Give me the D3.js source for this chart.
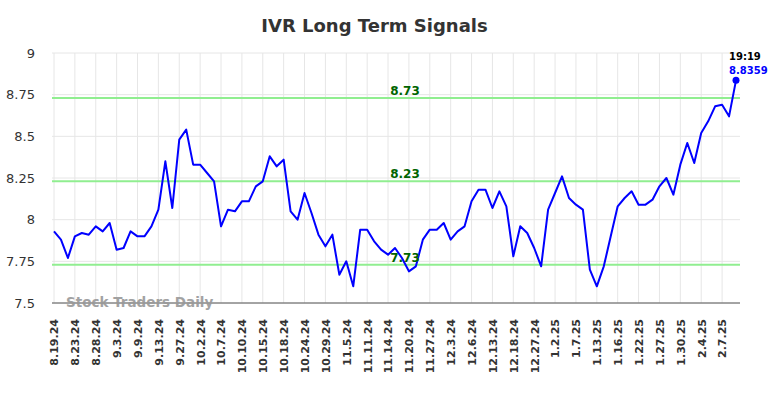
<!DOCTYPE html>
<html>
<head>
<meta charset="utf-8">
<script src="https://cdn.jsdelivr.net/npm/d3@7"></script>
<style>
  body { margin: 0; background: #fff; font-family: "DejaVu Sans", sans-serif; }
  .axis path, .axis line { display: none; }
</style>
</head>
<body>
<div id="chart"></div>
<script>
const values = [
  7.93, 7.88, 7.77, 7.90, 7.92, 7.91, 7.96, 7.93, 7.98, 7.82,
  7.83, 7.93, 7.90, 7.90, 7.96, 8.06, 8.35, 8.07, 8.48, 8.54,
  8.33, 8.33, 8.28, 8.23, 7.96, 8.06, 8.05, 8.11, 8.11, 8.20,
  8.23, 8.38, 8.32, 8.36, 8.05, 8.00, 8.16, 8.04, 7.91, 7.84,
  7.91, 7.67, 7.75, 7.60, 7.94, 7.94, 7.87, 7.82, 7.79, 7.83,
  7.77, 7.69, 7.72, 7.88, 7.94, 7.94, 7.98, 7.88, 7.93, 7.96,
  8.11, 8.18, 8.18, 8.07, 8.17, 8.08, 7.78, 7.96, 7.92, 7.83,
  7.72, 8.06, 8.16, 8.26, 8.13, 8.09, 8.06, 7.70, 7.60, 7.72,
  7.90, 8.08, 8.13, 8.17, 8.09, 8.09, 8.12, 8.20, 8.25, 8.15,
  8.33, 8.46, 8.34, 8.52, 8.59, 8.68, 8.69, 8.62, 8.8359
];

const tickLabels = [
  "8.19.24", "8.23.24", "8.28.24", "9.3.24", "9.9.24", "9.13.24", "9.27.24",
  "10.2.24", "10.7.24", "10.10.24", "10.15.24", "10.18.24", "10.24.24",
  "10.29.24", "11.5.24", "11.11.24", "11.14.24", "11.20.24", "11.27.24",
  "12.3.24", "12.6.24", "12.13.24", "12.18.24", "12.27.24", "1.2.25",
  "1.7.25", "1.13.25", "1.16.25", "1.22.25", "1.27.25", "1.30.25",
  "2.4.25", "2.7.25"
];

const yTicks = [7.5, 7.75, 8, 8.25, 8.5, 8.75, 9];
const signals = [8.73, 8.23, 7.73];
const lastTime = "19:19";

const width = 784, height = 398;
const margin = { top: 53, right: 44, bottom: 95, left: 52 };

const svg = d3.select("#chart")
  .append("svg")
  .attr("width", width)
  .attr("height", height);

const xScale = d3.scalePoint()
  .domain(d3.range(values.length))
  .range([margin.left + 2, width - margin.right - 4]);

const yScale = d3.scaleLinear()
  .domain([7.5, 9])
  .range([height - margin.bottom, margin.top]);

// grid
svg.append("g")
  .selectAll("line")
  .data(yTicks)
  .enter()
  .append("line")
  .attr("x1", margin.left)
  .attr("x2", width - margin.right)
  .attr("y1", d => yScale(d))
  .attr("y2", d => yScale(d))
  .attr("stroke", "#e6e6e6")
  .attr("stroke-width", 1);

const tickIdx = d3.range(0, values.length, 3);

svg.append("g")
  .selectAll("line")
  .data(tickIdx)
  .enter()
  .append("line")
  .attr("x1", d => xScale(d))
  .attr("x2", d => xScale(d))
  .attr("y1", margin.top)
  .attr("y2", height - margin.bottom)
  .attr("stroke", "#e6e6e6")
  .attr("stroke-width", 1);

// y axis labels
svg.append("g")
  .attr("class", "axis")
  .attr("transform", `translate(${margin.left - 14},0)`)
  .call(d3.axisLeft(yScale).tickValues(yTicks).tickSize(0).tickFormat(d3.format("")))
  .selectAll("text")
  .style("font-family", "DejaVu Sans")
  .style("font-size", "13px")
  .style("fill", "#333");

// x axis labels
svg.append("g")
  .attr("class", "axis")
  .attr("transform", `translate(0,${height - margin.bottom + 16})`)
  .call(d3.axisBottom(xScale).tickValues(tickIdx).tickSize(0).tickFormat((d, i) => tickLabels[i]))
  .selectAll("text")
  .attr("transform", "rotate(-90)")
  .attr("x", 0)
  .attr("y", 0)
  .attr("dx", "0")
  .attr("dy", "0.35em")
  .style("text-anchor", "end")
  .style("font-family", "DejaVu Sans")
  .style("font-weight", "bold")
  .style("font-size", "11px")
  .style("fill", "#333");

// signal lines
svg.append("g")
  .selectAll("line")
  .data(signals)
  .enter()
  .append("line")
  .attr("x1", margin.left)
  .attr("x2", width - margin.right)
  .attr("y1", d => yScale(d))
  .attr("y2", d => yScale(d))
  .attr("stroke", "#90ee90")
  .attr("stroke-width", 2);

// bottom axis line
svg.append("line")
  .attr("x1", margin.left)
  .attr("x2", width - margin.right)
  .attr("y1", yScale(7.5))
  .attr("y2", yScale(7.5))
  .attr("stroke", "#555")
  .attr("stroke-width", 1);

// watermark
svg.append("text")
  .attr("x", margin.left + 14)
  .attr("y", yScale(7.5) + 4)
  .style("font-family", "DejaVu Sans")
  .style("font-weight", "bold")
  .style("font-size", "13.5px")
  .style("fill", "#999")
  .style("opacity", 0.9)
  .text("Stock Traders Daily");

// price line
const line = d3.line()
  .x((d, i) => xScale(i))
  .y(d => yScale(d));

svg.append("path")
  .datum(values)
  .attr("d", line)
  .attr("fill", "none")
  .attr("stroke", "#0000ff")
  .attr("stroke-width", 2)
  .attr("stroke-linejoin", "round");

// signal labels
svg.append("g")
  .selectAll("text")
  .data(signals)
  .enter()
  .append("text")
  .attr("x", 405)
  .attr("y", d => yScale(d) - 3)
  .style("text-anchor", "middle")
  .style("font-family", "DejaVu Sans")
  .style("font-weight", "bold")
  .style("font-size", "12px")
  .style("fill", "#006400")
  .text(d => d.toFixed(2));

// last point
const lastI = values.length - 1;
svg.append("circle")
  .attr("cx", xScale(lastI))
  .attr("cy", yScale(values[lastI]))
  .attr("r", 3.5)
  .attr("fill", "#0000ff");

svg.append("text")
  .attr("x", xScale(lastI) - 7)
  .attr("y", yScale(values[lastI]) - 20)
  .style("font-family", "DejaVu Sans")
  .style("font-weight", "bold")
  .style("font-size", "10px")
  .style("fill", "#000")
  .text(lastTime);

svg.append("text")
  .attr("x", xScale(lastI) - 7)
  .attr("y", yScale(values[lastI]) - 6)
  .style("font-family", "DejaVu Sans")
  .style("font-weight", "bold")
  .style("font-size", "10px")
  .style("fill", "#0000ff")
  .text(values[lastI]);

// title
svg.append("text")
  .attr("x", 374.5)
  .attr("y", 32)
  .style("text-anchor", "middle")
  .style("font-family", "DejaVu Sans")
  .style("font-weight", "bold")
  .style("font-size", "18px")
  .style("fill", "#333")
  .text("IVR Long Term Signals");
</script>
</body>
</html>
